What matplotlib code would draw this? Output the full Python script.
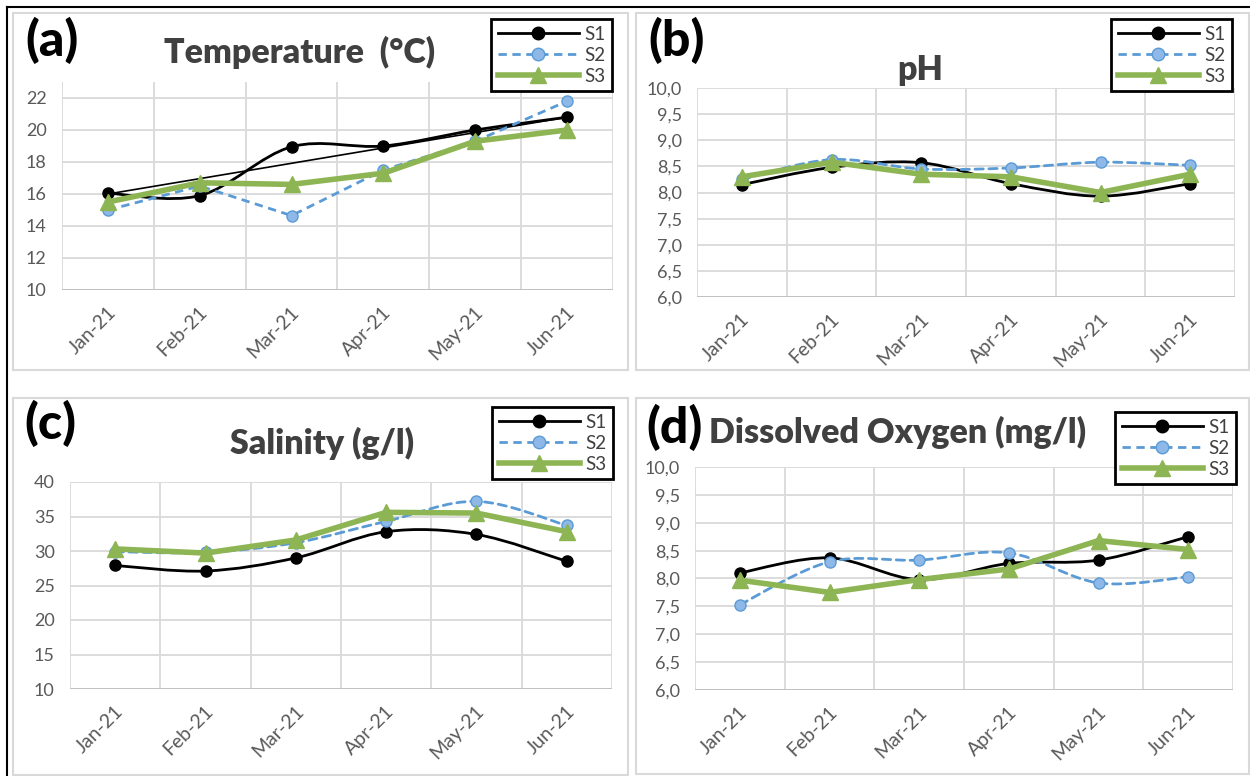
import matplotlib
matplotlib.use("Agg")
import matplotlib.pyplot as plt
from matplotlib.path import Path
from matplotlib.patches import PathPatch, Rectangle
from matplotlib.lines import Line2D
from matplotlib.transforms import ScaledTranslation

plt.rcParams['font.family'] = ['Lato', 'DejaVu Sans']

# --- data ---
months = ['Jan-21', 'Feb-21', 'Mar-21', 'Apr-21', 'May-21', 'Jun-21']

temp_s1 = [16.05, 15.9, 18.95, 19.0, 20.0, 20.8]
temp_s2 = [15.0, 16.5, 14.65, 17.5, 19.3, 21.8]
temp_s3 = [15.5, 16.7, 16.6, 17.3, 19.3, 20.0]
temp_trend = [16.0, 20.8]   # thin linear trend line, Jan and Jun ends

ph_s1 = [8.15, 8.48, 8.57, 8.17, 7.93, 8.17]
ph_s2 = [8.25, 8.63, 8.45, 8.47, 8.58, 8.52]
ph_s3 = [8.3, 8.58, 8.35, 8.3, 8.0, 8.35]

sal_s1 = [27.9, 27.1, 29.0, 32.8, 32.4, 28.5]
sal_s2 = [29.9, 29.8, 31.2, 34.3, 37.2, 33.7]
sal_s3 = [30.3, 29.7, 31.6, 35.6, 35.5, 32.8]

do_s1 = [8.1, 8.37, 7.98, 8.27, 8.33, 8.75]
do_s2 = [7.53, 8.3, 8.33, 8.46, 7.92, 8.03]
do_s3 = [7.97, 7.75, 7.98, 8.17, 8.68, 8.52]

temp_ticks = [10, 12, 14, 16, 18, 20, 22]
ph_ticks = [6.0, 6.5, 7.0, 7.5, 8.0, 8.5, 9.0, 9.5, 10.0]
sal_ticks = [10, 15, 20, 25, 30, 35, 40]
do_ticks = ph_ticks

# --- styles ---
C1 = 'black'
C2 = '#5B9BD5'
C2_FILL = '#8DB8E8'
C3 = '#8DB553'
GRID = '#D9D9D9'
TXT = '#595959'
TITLE = '#404040'

W, H = 1250, 776
fig = plt.figure(figsize=(W / 100, H / 100), dpi=100)


def rect(x0, y0, x1, y1):
    return [x0 / W, 1 - y1 / H, (x1 - x0) / W, (y1 - y0) / H]


def smooth_path(x, y):
    # Excel-style smoothed line (Catmull-Rom as cubic Bezier)
    verts = [(x[0], y[0])]
    codes = [Path.MOVETO]
    n = len(x)
    for i in range(n - 1):
        a = max(i - 1, 0)
        b = min(i + 2, n - 1)
        c1 = (x[i] + (x[i + 1] - x[a]) / 6, y[i] + (y[i + 1] - y[a]) / 6)
        c2 = (x[i + 1] - (x[b] - x[i]) / 6, y[i + 1] - (y[b] - y[i]) / 6)
        verts += [c1, c2, (x[i + 1], y[i + 1])]
        codes += [Path.CURVE4] * 3
    return Path(verts, codes)


def draw_series(ax, y, color, lw, ls, marker, ms, mfc, smooth, z):
    x = list(range(1, len(y) + 1))
    if smooth:
        ax.add_patch(PathPatch(smooth_path(x, y), fill=False, edgecolor=color,
                               lw=lw, linestyle=ls, zorder=z, capstyle='round'))
    else:
        ax.plot(x, y, color=color, lw=lw, linestyle=ls, zorder=z)
    ax.plot(x, y, linestyle='none', marker=marker, ms=ms, mfc=mfc,
            mec=color, mew=1, zorder=z + 0.5, clip_on=False)


def panel(ax_rect, s1, s2, s3, ylim, ticks, fmt, smooth2):
    ax = fig.add_axes(ax_rect)
    ax.set_xlim(0.5, 6.5)
    ax.set_ylim(*ylim)
    for sp in ax.spines.values():
        sp.set_visible(False)
    for t in ticks:
        ax.axhline(t, color=GRID, lw=1.3, zorder=0)
    ax.axhline(ylim[0], color='#BFBFBF', lw=1.3, zorder=0.5)
    for gx in [0.5 + k for k in range(7)]:
        ax.axvline(gx, color=GRID, lw=1.3, zorder=0)
    ax.tick_params(length=0, colors=TXT)
    ax.tick_params(axis='y', pad=11)
    ax.tick_params(axis='x', pad=14)
    ax.set_yticks(ticks)
    ax.set_yticklabels([fmt(t) for t in ticks], fontsize=13, color=TXT)
    ax.set_xticks(range(1, 7))
    ax.set_xticklabels(months, rotation=45, ha='right', va='center',
                       rotation_mode='anchor', fontsize=14, color=TXT)
    shift = ScaledTranslation(5 / 100, 0, fig.dpi_scale_trans)
    for lab in ax.get_xticklabels():
        lab.set_transform(lab.get_transform() + shift)
    draw_series(ax, s1, C1, 2.0, '-', 'o', 8, C1, True, 3)
    draw_series(ax, s2, C2, 2.0, (0, (3, 2)), 'o', 8, C2_FILL, smooth2, 4)
    draw_series(ax, s3, C3, 4.0, '-', '^', 11, C3, False, 5)
    return ax


def legend(ax, x1, y0):
    handles = [
        Line2D([], [], color=C1, lw=2, marker='o', ms=9, mfc=C1),
        Line2D([], [], color=C2, lw=2, ls=(0, (3, 2)), marker='o', ms=9, mfc=C2_FILL, mec=C2),
        Line2D([], [], color=C3, lw=4, marker='^', ms=12, mfc=C3, mec=C3),
    ]
    leg = ax.legend(handles, ['S1', 'S2', 'S3'], loc='upper right',
                    bbox_to_anchor=(x1 / W, 1 - y0 / H), bbox_transform=fig.transFigure,
                    fontsize=13.5, handlelength=4.3, handletextpad=0.3,
                    labelspacing=0.22, borderpad=0.35, borderaxespad=0,
                    fancybox=False, framealpha=1, edgecolor='black',
                    labelcolor=TITLE)
    leg.get_frame().set_linewidth(2)
    leg.set_zorder(10)


int_fmt = lambda t: f'{t:g}'
dec_fmt = lambda t: f'{t:.1f}'.replace('.', ',')

ax_a = panel(rect(62, 82, 613, 290), temp_s1, temp_s2, temp_s3, (10, 23), temp_ticks, int_fmt, False)
ax_a.plot([1, 6], temp_trend, color='black', lw=1.2, zorder=3.2)
ax_b = panel(rect(697, 88, 1235, 297), ph_s1, ph_s2, ph_s3, (6, 10), ph_ticks, dec_fmt, True)
ax_c = panel(rect(70, 482, 612, 689), sal_s1, sal_s2, sal_s3, (10, 40), sal_ticks, int_fmt, True)
ax_d = panel(rect(695, 467, 1233, 690), do_s1, do_s2, do_s3, (6, 10), do_ticks, dec_fmt, True)

legend(ax_a, 612, 19)
legend(ax_b, 1232, 19)
legend(ax_c, 613, 407)
legend(ax_d, 1236, 412)

# panel frames and outer border
for x0, y0, x1, y1 in [(13, 13, 628, 370), (636, 13, 1249, 370),
                       (13, 398, 628, 775), (636, 398, 1249, 774)]:
    fig.patches.append(Rectangle((x0 / W, 1 - y1 / H), (x1 - x0) / W, (y1 - y0) / H,
                                 transform=fig.transFigure, fill=False,
                                 edgecolor=GRID, lw=1.5, zorder=0))
fig.add_artist(Line2D([7 / W, 7 / W], [0, 1 - 7 / H], color='black', lw=1.5, transform=fig.transFigure))
fig.add_artist(Line2D([7 / W, 1], [1 - 7 / H, 1 - 7 / H], color='black', lw=1.5, transform=fig.transFigure))

# titles and panel letters
titles = [('Temperature  (°C)', 300, 52), ('pH', 920, 70),
          ('Salinity (g/l)', 322, 443), ('Dissolved Oxygen (mg/l)', 898, 432)]
for text, x, y in titles:
    fig.text(x / W, 1 - y / H, text, ha='center', va='center', fontsize=24.5,
             fontweight='heavy', color=TITLE)

letters = [('(a)', 52, 40), ('(b)', 677, 40), ('(c)', 50, 423), ('(d)', 675, 427)]
for text, x, y in letters:
    fig.text(x / W, 1 - y / H, text, ha='center', va='center', fontsize=36,
             fontweight='black', color='black')

fig.savefig('out.png', dpi=100)
